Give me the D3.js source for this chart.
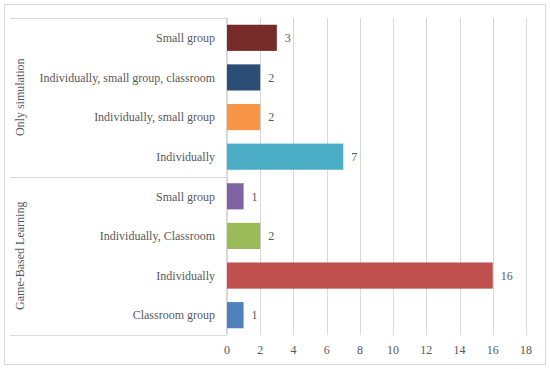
<!DOCTYPE html>
<html>
<head>
<meta charset="utf-8">
<script src="https://cdn.jsdelivr.net/npm/d3@7"></script>
<style>
  body { margin: 0; background: #fff; }
  text { font-family: "Liberation Serif", "DejaVu Serif", serif; fill: #595959; }
</style>
</head>
<body>
<div id="chart"></div>
<script>
const width = 550
const height = 369

/* Data, top to bottom */
const groups = ['Only simulation', 'Game-Based Learning']
const categories = [
    'Small group', 'Individually, small group, classroom', 'Individually, small group', 'Individually',
    'Small group', 'Individually, Classroom', 'Individually', 'Classroom group'
]
const groupOf = [0, 0, 0, 0, 1, 1, 1, 1]
const values = [3, 2, 2, 7, 1, 2, 16, 1]
const colors = ['#772c2a', '#2c4d75', '#f79646', '#4bacc6', '#8064a2', '#9bbb59', '#c0504d', '#4f81bd']
const ticks = [0, 2, 4, 6, 8, 10, 12, 14, 16, 18]

const rows = categories.map((c, i) => ({ key: i, cat: c, group: groupOf[i], value: values[i], color: colors[i] }))

const margin = { top: 18, right: 24, bottom: 34, left: 227 }
const fs = '12px'

const x = d3.scaleLinear().domain([0, 18]).range([margin.left, width - margin.right])
const y = d3.scaleBand().domain(rows.map(d => d.key)).range([margin.top, height - margin.bottom]).paddingInner(0.34).paddingOuter(0.17)

const svg = d3.select('#chart').append('svg').attr('width', width).attr('height', height)

/* Chart border */
svg.append('rect')
    .attr('x', 4.5).attr('y', 4.5)
    .attr('width', width - 9).attr('height', height - 9)
    .attr('fill', 'none').attr('stroke', '#d9d9d9')

/* Gridlines */
svg.append('g')
    .selectAll('line')
    .data(ticks)
    .join('line')
    .attr('x1', d => Math.round(x(d)) + 0.5).attr('x2', d => Math.round(x(d)) + 0.5)
    .attr('y1', margin.top).attr('y2', height - margin.bottom)
    .attr('stroke', '#d9d9d9')

/* X axis labels */
svg.append('g')
    .selectAll('text')
    .data(ticks)
    .join('text')
    .attr('x', d => x(d))
    .attr('y', height - margin.bottom + 19)
    .attr('text-anchor', 'middle')
    .attr('font-size', fs)
    .text(d => d)

/* Bars */
svg.append('g')
    .selectAll('rect')
    .data(rows)
    .join('rect')
    .attr('x', x(0))
    .attr('y', d => y(d.key))
    .attr('width', d => x(d.value) - x(0))
    .attr('height', y.bandwidth())
    .attr('fill', d => d.color)

/* Value labels */
svg.append('g')
    .selectAll('text')
    .data(rows)
    .join('text')
    .attr('x', d => x(d.value) + 8)
    .attr('y', d => y(d.key) + y.bandwidth() / 2)
    .attr('dy', '0.35em')
    .attr('font-size', fs)
    .text(d => d.value)

/* Category labels */
svg.append('g')
    .selectAll('text')
    .data(rows)
    .join('text')
    .attr('x', margin.left - 12)
    .attr('y', d => y(d.key) + y.bandwidth() / 2)
    .attr('dy', '0.35em')
    .attr('text-anchor', 'end')
    .attr('font-size', fs)
    .text(d => d.cat)

/* Group separators and labels */
const step = y.step()
const bounds = [0, 4, 8].map(i => margin.top + i * step)
svg.append('g')
    .selectAll('line')
    .data(bounds)
    .join('line')
    .attr('x1', 10).attr('x2', margin.left)
    .attr('y1', d => Math.round(d) + 0.5).attr('y2', d => Math.round(d) + 0.5)
    .attr('stroke', '#d9d9d9')

svg.append('line')
    .attr('x1', margin.left - 0.5).attr('x2', margin.left - 0.5)
    .attr('y1', margin.top).attr('y2', height - margin.bottom)
    .attr('stroke', '#d9d9d9')

svg.append('g')
    .selectAll('text')
    .data(groups)
    .join('text')
    .attr('transform', (d, i) => `translate(${[20, (bounds[i] + bounds[i + 1]) / 2]}) rotate(-90)`)
    .attr('dy', '0.35em')
    .attr('text-anchor', 'middle')
    .attr('font-size', fs)
    .text(d => d)
</script>
</body>
</html>
